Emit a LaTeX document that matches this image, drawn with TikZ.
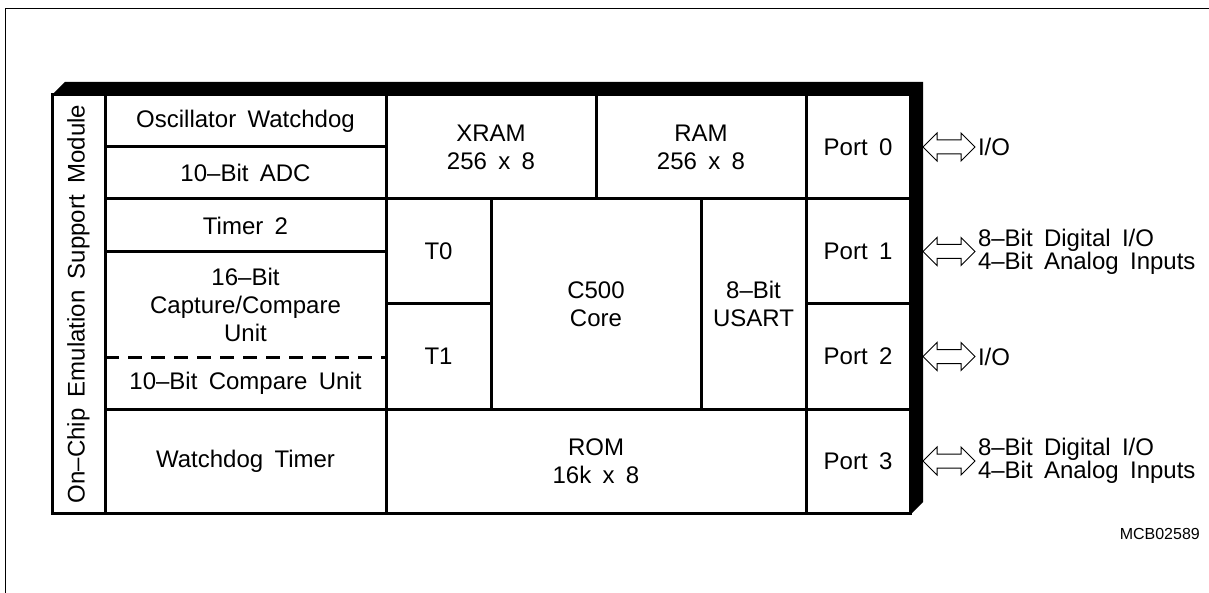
\documentclass[tikz,border=0pt]{standalone}
\usepackage{fontspec}
\setmainfont{Liberation Sans}[WordSpace=1.7]
\usetikzlibrary{positioning, calc}

\begin{document}
\begin{tikzpicture}[x=1pt, y=-1pt,
    cell/.style={draw, line width=3pt, inner sep=0pt, outer sep=0pt, align=center, font=\fontsize{24}{28}\selectfont},
    lcol/.style={cell, minimum width=281pt},
    port/.style={cell, minimum width=104pt},
    iolabel/.style={inner sep=0pt, outer sep=0pt, align=left, font=\fontsize{24}{19}\selectfont},
    ioarrow/.style={line width=1pt, line join=miter}]
    \useasboundingbox (0,0) rectangle (1209,593);
    % Page frame
    \draw[line width=1pt] (5,593) -- (5,9) -- (1209,9);

    % Shadow of the chip outline
    \fill (52,95) -- (65,82) -- (923,82) -- (923,502) -- (910,515) -- (910,95) -- cycle;

    % Emulation support column
    \node[cell, minimum width=418pt, minimum height=53pt, rotate=90] (emu) at (78.5,304) {On--Chip Emulation Support Module};

    % Left column of peripherals
    \node[lcol, minimum height=52pt] (osc) at (245.5,121) {Oscillator Watchdog};
    \node[lcol, minimum height=52pt, below=0pt of osc] (adc) {10--Bit ADC};
    \node[lcol, minimum height=53pt, below=0pt of adc] (tim2) {Timer 2};
    \node[lcol, draw=none, minimum height=105pt, below=0pt of tim2] (ccu) {16--Bit\\Capture/Compare\\Unit};
    \node[lcol, draw=none, minimum height=52pt, below=0pt of ccu] (cmp) {10--Bit Compare Unit};
    \node[lcol, minimum height=104pt, below=0pt of cmp] (wdt) {Watchdog Timer};
    \draw[line width=3pt, dash pattern=on 14pt off 9pt] (ccu.south west) -- (ccu.south east);

    % Memories
    \node[cell, minimum width=210pt, minimum height=104pt] (xram) at (491,147) {XRAM\\256 x 8};
    \node[cell, minimum width=210pt, minimum height=104pt, right=0pt of xram] (ram) {RAM\\256 x 8};
    \node[cell, minimum width=420pt, minimum height=104pt] (rom) at (596,461) {ROM\\16k x 8};

    % Timers, core and serial port
    \node[cell, minimum width=105pt, minimum height=105pt] (t0) at (438.5,251.5) {T0};
    \node[cell, minimum width=105pt, minimum height=105pt, below=0pt of t0] (t1) {T1};
    \node[cell, minimum width=210pt, minimum height=210pt] (core) at (596,304) {C500\\Core};
    \node[cell, minimum width=105pt, minimum height=210pt, right=0pt of core] (usart) {8--Bit\\USART};

    % Ports
    \node[port, minimum height=104pt] (p0) at (858,147) {Port 0};
    \node[port, minimum height=105pt, below=0pt of p0] (p1) {Port 1};
    \node[port, minimum height=105pt, below=0pt of p1] (p2) {Port 2};
    \node[port, minimum height=104pt, below=0pt of p2] (p3) {Port 3};

    % I/O lines
    \node[iolabel, right=68pt of p0] (io0) {I/O};
    \node[iolabel, right=68pt of p1] (io1) {8--Bit Digital I/O\\4--Bit Analog Inputs};
    \node[iolabel, right=68pt of p2] (io2) {I/O};
    \node[iolabel, right=68pt of p3] (io3) {8--Bit Digital I/O\\4--Bit Analog Inputs};
    \foreach \p in {p0,p1,p2,p3}
        \draw[ioarrow] ($(\p.east)+(13,0)$) -- ++(14,-14) -- ++(0,7) -- ++(24,0) -- ++(0,-7) -- ++(14,14)
            -- ++(-14,14) -- ++(0,-7) -- ++(-24,0) -- ++(0,7) -- cycle;

    \node[inner sep=0pt, anchor=east, font=\fontsize{16}{18}\selectfont] (mcb) at (1200,534) {MCB02589};
\end{tikzpicture}
\end{document}
